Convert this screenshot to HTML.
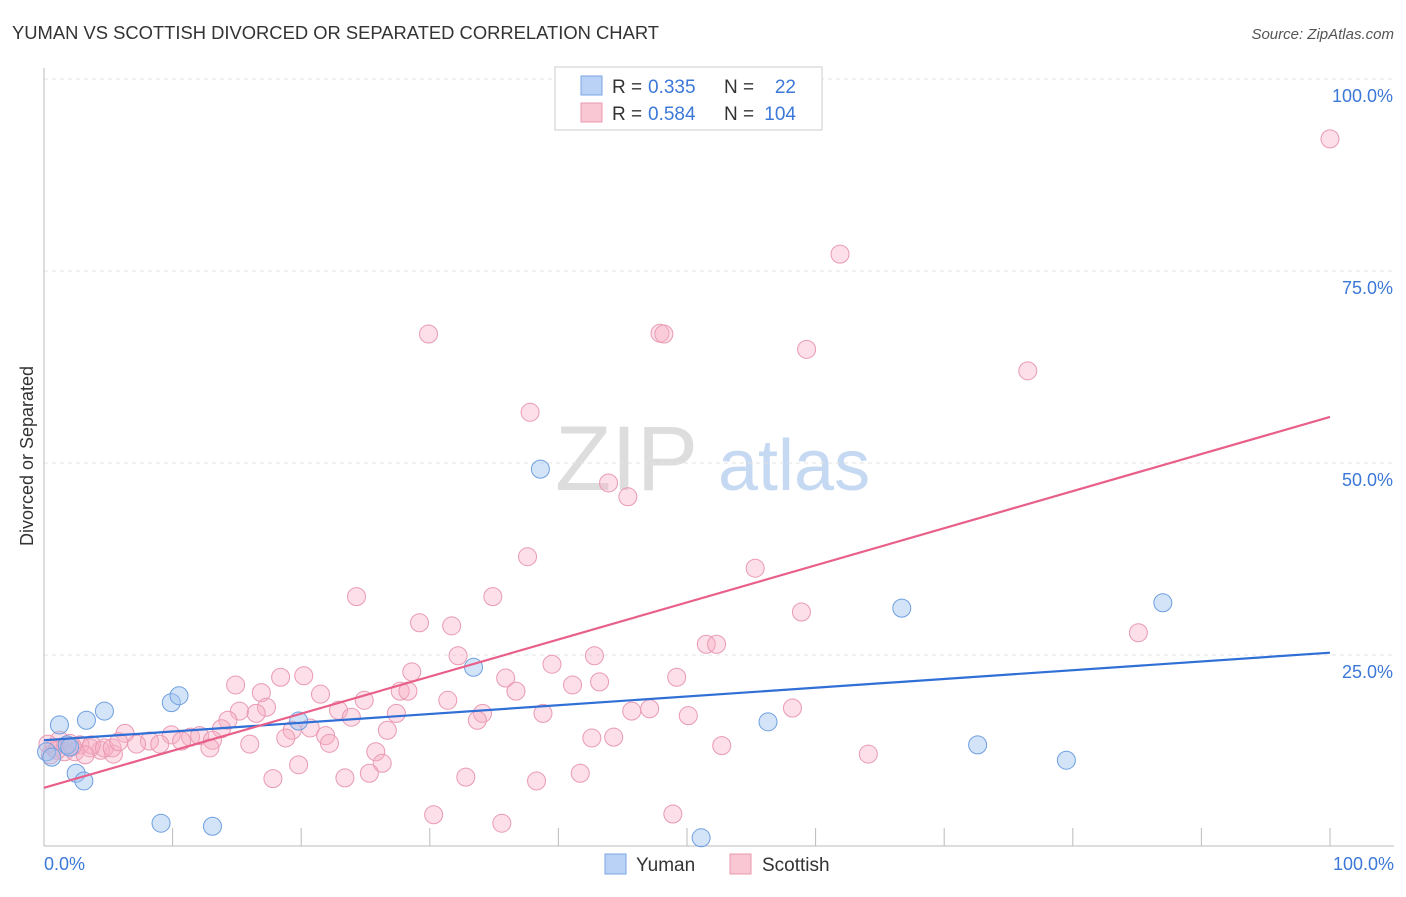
<!DOCTYPE html>
<html><head><meta charset="utf-8"><style>
body{margin:0;background:#fff;font-family:"Liberation Sans",sans-serif;}
svg text{font-family:"Liberation Sans",sans-serif;}
</style></head><body>
<svg id="c" width="1406" height="892">
<text x="12" y="39" font-size="18" fill="#333" textLength="647" lengthAdjust="spacingAndGlyphs">YUMAN VS SCOTTISH DIVORCED OR SEPARATED CORRELATION CHART</text>
<text x="1394" y="39" font-size="15" fill="#555" text-anchor="end" font-style="italic">Source: ZipAtlas.com</text>
<text transform="translate(33,456) rotate(-90)" font-size="18" fill="#333" text-anchor="middle">Divorced or Separated</text>
<g>
<text x="555" y="490" font-size="92" fill="#ddd" font-family="Liberation Serif,serif">ZIP</text>
<text x="718" y="490" font-size="72" fill="#c6d9f2">atlas</text>
</g>
<g id="grid"></g><g id="axes"></g><g id="lines"></g><g id="pts"></g>
<g>
<rect x="555" y="67" width="267" height="63" fill="#fff" stroke="#ccc"/>
<rect x="581" y="76" width="21" height="19" fill="#b9d2f5" stroke="#7aa6e4"/>
<rect x="581" y="103" width="21" height="19" fill="#f9c6d4" stroke="#e89ab0"/>
<text x="612" y="93" font-size="19" fill="#333">R =</text>
<text x="648" y="93" font-size="19" fill="#3c78d8">0.335</text>
<text x="724" y="93" font-size="19" fill="#333">N =</text>
<text x="796" y="93" font-size="19" fill="#3c78d8" text-anchor="end">22</text>
<text x="612" y="120" font-size="19" fill="#333">R =</text>
<text x="648" y="120" font-size="19" fill="#3c78d8">0.584</text>
<text x="724" y="120" font-size="19" fill="#333">N =</text>
<text x="796" y="120" font-size="19" fill="#3c78d8" text-anchor="end">104</text>
</g>
<g>
<rect x="605" y="854" width="21" height="20" fill="#b9d2f5" stroke="#7aa6e4"/>
<text x="636" y="871" font-size="19" fill="#333">Yuman</text>
<rect x="730" y="854" width="21" height="20" fill="#f9c6d4" stroke="#e89ab0"/>
<text x="762" y="871" font-size="19" fill="#333">Scottish</text>
</g>
</svg>
<script>
const yTicks=[25,50,75,100];
const yTickLabels=["25.0%","50.0%","75.0%","100.0%"];
const yumanX=[0.2,0.6,1.2,3.3,4.7,1.8,2.5,3.1,9.9,10.5,9.1,13.1,19.8,33.4,38.6,51.1,56.3,66.7,72.6,79.5,87.0,2.0];
const yumanY=[12.4,11.7,15.9,16.5,17.7,13.3,9.6,8.6,18.8,19.7,3.1,2.7,16.4,23.4,49.2,1.2,16.3,31.1,13.3,11.3,31.8,13.0];
const scotX=[100,61.9,29.9,47.9,48.2,59.3,76.5,37.8,43.9,45.4,37.6,55.3,24.3,34.9,58.9,29.2,31.7,85.1,51.5,52.3,32.2,42.8,39.5,28.6,18.4,20.2,49.2,35.9,14.9,41.1,43.2,16.9,21.5,27.7,28.3,36.7,31.4,24.9,17.3,15.2,16.5,22.9,34.1,38.8,45.7,47.1,50.1,58.2,23.9,27.4,14.3,33.7,13.8,19.3,20.7,26.7,6.3,21.9,18.8,9.9,11.4,12.1,13.1,8.2,10.7,7.2,9.0,22.2,16.0,12.9,42.6,44.3,52.7,25.8,64.1,5.4,4.4,3.6,2.8,2.0,1.2,0.8,0.3,1.6,2.4,3.7,4.7,3.2,0.5,26.3,19.8,32.8,25.3,41.7,17.8,23.4,38.3,30.3,48.9,35.6,5.3,5.8,1.0,2.2];
const scotY=[92.2,77.2,66.8,66.9,66.8,64.8,62.0,56.6,47.4,45.6,37.8,36.3,32.6,32.6,30.6,29.2,28.8,27.9,26.4,26.4,24.9,24.9,23.8,22.8,22.1,22.3,22.1,22.0,21.1,21.1,21.5,20.1,19.9,20.3,20.3,20.3,19.1,19.1,18.2,17.7,17.4,17.8,17.4,17.4,17.7,18.0,17.1,18.1,16.9,17.4,16.5,16.5,15.4,15.2,15.5,15.2,14.8,14.5,14.2,14.6,14.3,14.5,13.9,13.8,13.8,13.4,13.4,13.5,13.4,12.9,14.2,14.3,13.2,12.4,12.1,12.1,12.6,12.9,13.3,13.5,13.9,12.9,13.4,12.4,12.4,13.3,12.9,12.0,12.0,10.9,10.7,9.1,9.6,9.6,8.9,9.0,8.6,4.2,4.3,3.1,12.9,13.7,12.6,13.1];
const yumanTrend=[13.9,25.3];
const scotTrend=[7.7,56.0];
const NS="http://www.w3.org/2000/svg";
const X=v=>44+v*12.86, Y=v=>847-v*7.68;
function mk(t,a,p){const e=document.createElementNS(NS,t);for(const k in a)e.setAttribute(k,a[k]);p.appendChild(e);return e;}
const grid=document.getElementById('grid'),axes=document.getElementById('axes');
yTicks.forEach((t,i)=>{
 const l=mk('line',{x1:44,x2:1394,y1:Y(t),y2:Y(t),stroke:'#e3e3e3','stroke-dasharray':'4,4'},grid);
 
 
 const tx=mk('text',{x:1393,y:Y(t)+23,'font-size':18,fill:'#3c78d8','text-anchor':'end'},axes);
 tx.textContent=yTickLabels[i];
 
 
});
mk('line',{x1:44,x2:44,y1:68,y2:846,stroke:'#bbb'},axes);
mk('line',{x1:44,x2:1394,y1:846,y2:846,stroke:'#bbb'},axes);
for(let i=1;i<=10;i++){const tk=mk('line',{x1:X(i*10),x2:X(i*10),y1:828,y2:846,stroke:'#bbb'},axes);
 
 }
const x0=mk('text',{x:44,y:870,'font-size':18,fill:'#3c78d8'},axes);x0.textContent='0.0%';


const x1=mk('text',{x:1394,y:870,'font-size':18,fill:'#3c78d8','text-anchor':'end'},axes);x1.textContent='100.0%';


const pts=document.getElementById('pts'),lines=document.getElementById('lines');
scotX.forEach((x,i)=>{const c=mk('circle',{cx:X(x),cy:Y(scotY[i]),r:9,fill:'rgba(248,175,198,0.4)',stroke:'#e99ab2','stroke-width':1},pts);
 
 });
yumanX.forEach((x,i)=>{const c=mk('circle',{cx:X(x),cy:Y(yumanY[i]),r:9,fill:'rgba(160,195,240,0.45)',stroke:'#6e9fe0','stroke-width':1},pts);
 
 });
const ly=mk('line',{x1:X(0),x2:X(100),y1:Y(yumanTrend[0]),y2:Y(yumanTrend[1]),stroke:'#2f6fd6','stroke-width':2.2},pts);


const ls=mk('line',{x1:X(0),x2:X(100),y1:Y(scotTrend[0]),y2:Y(scotTrend[1]),stroke:'#e8608a','stroke-width':2.2},pts);


</script>
</body></html>
